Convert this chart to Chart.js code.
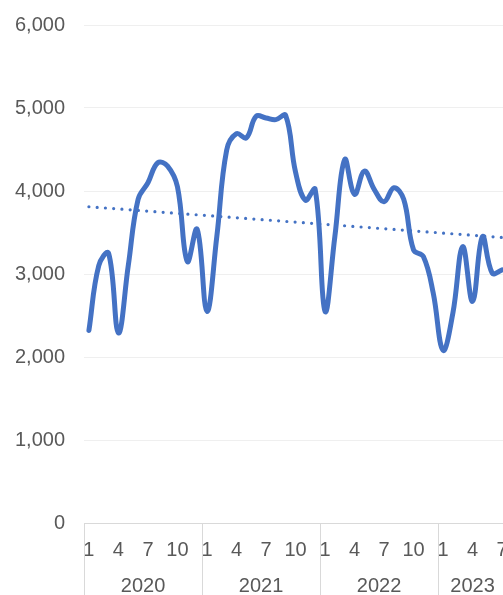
<!DOCTYPE html>
<html>
<head>
<meta charset="utf-8">
<script src="https://cdn.jsdelivr.net/npm/chart.js@4"></script>
<style>
  html, body { margin: 0; padding: 0; overflow: hidden; background: #fff; }
  #wrap { width: 510px; height: 600px; position: relative; }
</style>
</head>
<body>
<div id="wrap"><canvas id="myLineChart" width="510" height="600"></canvas></div>
<script>
// categories: years and how many months of each are shown
var years = ['2020', '2021', '2022', '2023'];
var monthsPerYear = [12, 12, 12, 7];
var shownMonths = [1, 4, 7, 10];

// monthly values, Jan 2020 .. Jul 2023
var monthlyValues = [
	2320, 3100, 3250, 2290, 3100, 3900, 4100, 4340, 4300, 4050, 3150, 3540,
	2550, 3450, 4490, 4690, 4640, 4900, 4880, 4860, 4910, 4230, 3890, 4020,
	2550, 3450, 4380, 3960, 4240, 4020, 3870, 4040, 3900, 3290, 3210, 2770,
	2080, 2530, 3330, 2670, 3450, 3010, 3050
];

// linear trendline, read at the first and last month
var trendStart = 3810;
var trendEnd = 3440;

var yTicks = [0, 1000, 2000, 3000, 4000, 5000, 6000];

//build the category labels ("2020-1" ...)
var labels = [];
var yearStarts = [];
for (var y = 0; y < years.length; y++) {
	yearStarts.push(labels.length);
	for (var m = 1; m <= monthsPerYear[y]; m++) {
		labels.push(years[y] + '-' + m);
	}
}

var trendPoints = [
	{ x: labels[0], y: trendStart },
	{ x: labels[labels.length - 1], y: trendEnd }
];

var textColor = '#595959';
var lineGrey = '#d9d9d9';

//draw the year row and the group separators under the month labels
var yearAxisPlugin = {
	id: 'yearAxis',
	afterDraw: function(chart) {
		var ctx = chart.ctx;
		var xs = chart.scales.x;
		var half = (xs.getPixelForValue(1) - xs.getPixelForValue(0)) / 2;
		var top = xs.top;
		var bottom = chart.height;
		ctx.save();
		ctx.strokeStyle = lineGrey;
		ctx.lineWidth = 1;
		ctx.beginPath();
		ctx.moveTo(xs.left, top + 0.5);
		ctx.lineTo(xs.right, top + 0.5);
		for (var i = 0; i < years.length; i++) {
			var px = Math.round(xs.getPixelForValue(yearStarts[i]) - half) + 0.5;
			ctx.moveTo(px, top);
			ctx.lineTo(px, bottom);
		}
		ctx.stroke();
		ctx.fillStyle = textColor;
		ctx.font = '20px "Liberation Sans", Arial, sans-serif';
		ctx.textAlign = 'center';
		ctx.textBaseline = 'middle';
		for (var j = 0; j < years.length; j++) {
			var first = yearStarts[j];
			var last = first + monthsPerYear[j] - 1;
			var x0 = xs.getPixelForValue(first) - half;
			var x1 = xs.getPixelForValue(last) + half;
			ctx.fillText(years[j], (x0 + x1) / 2, top + 63);
		}
		ctx.restore();
	}
};

Chart.defaults.font.family = '"Liberation Sans", Arial, sans-serif';
Chart.defaults.font.size = 20;
Chart.defaults.color = textColor;

var line_ctx = document.getElementById('myLineChart');
var myLineChart = new Chart(line_ctx, {
	type: 'line',
	data: {
		labels: labels,
		datasets: [{
			label: 'Monthly',
			data: monthlyValues,
			borderColor: '#4472C4',
			borderWidth: 5,
			pointRadius: 0,
			tension: 0.4,
			fill: false,
			borderCapStyle: 'round',
			borderJoinStyle: 'round'
		}, {
			label: 'Trend',
			data: trendPoints,
			borderColor: '#4472C4',
			borderWidth: 3.2,
			borderDash: [0, 8.27],
			borderCapStyle: 'round',
			pointRadius: 0,
			tension: 0,
			fill: false
		}]
	},
	options: {
		responsive: false,
		animation: false,
		layout: { padding: { left: 14, right: 3, top: 25, bottom: 0 } },
		plugins: {
			legend: { display: false },
			tooltip: { enabled: false }
		},
		scales: {
			x: {
				offset: true,
				grid: { display: false, drawTicks: false },
				border: { display: false },
				afterFit: function(scale) {
					scale.height = 77;
					scale.paddingLeft = 0;
					scale.paddingRight = 0;
				},
				ticks: {
					autoSkip: false,
					maxRotation: 0,
					padding: 15,
					callback: function(value) {
						var m = parseInt(labels[value].split('-')[1], 10);
						return shownMonths.indexOf(m) >= 0 ? String(m) : '';
					}
				}
			},
			y: {
				min: yTicks[0],
				max: yTicks[yTicks.length - 1],
				grid: { color: '#efefef', drawTicks: false },
				border: { display: false },
				afterBuildTicks: function(scale) {
					scale.ticks = yTicks.map(function(v) { return { value: v }; });
				},
				afterFit: function(scale) {
					scale.width = 70;
					scale.paddingTop = 0;
					scale.paddingBottom = 0;
				},
				ticks: {
					padding: 19,
					callback: function(value) { return value.toLocaleString('en-US'); }
				}
			}
		}
	},
	plugins: [yearAxisPlugin]
});
</script>
</body>
</html>
